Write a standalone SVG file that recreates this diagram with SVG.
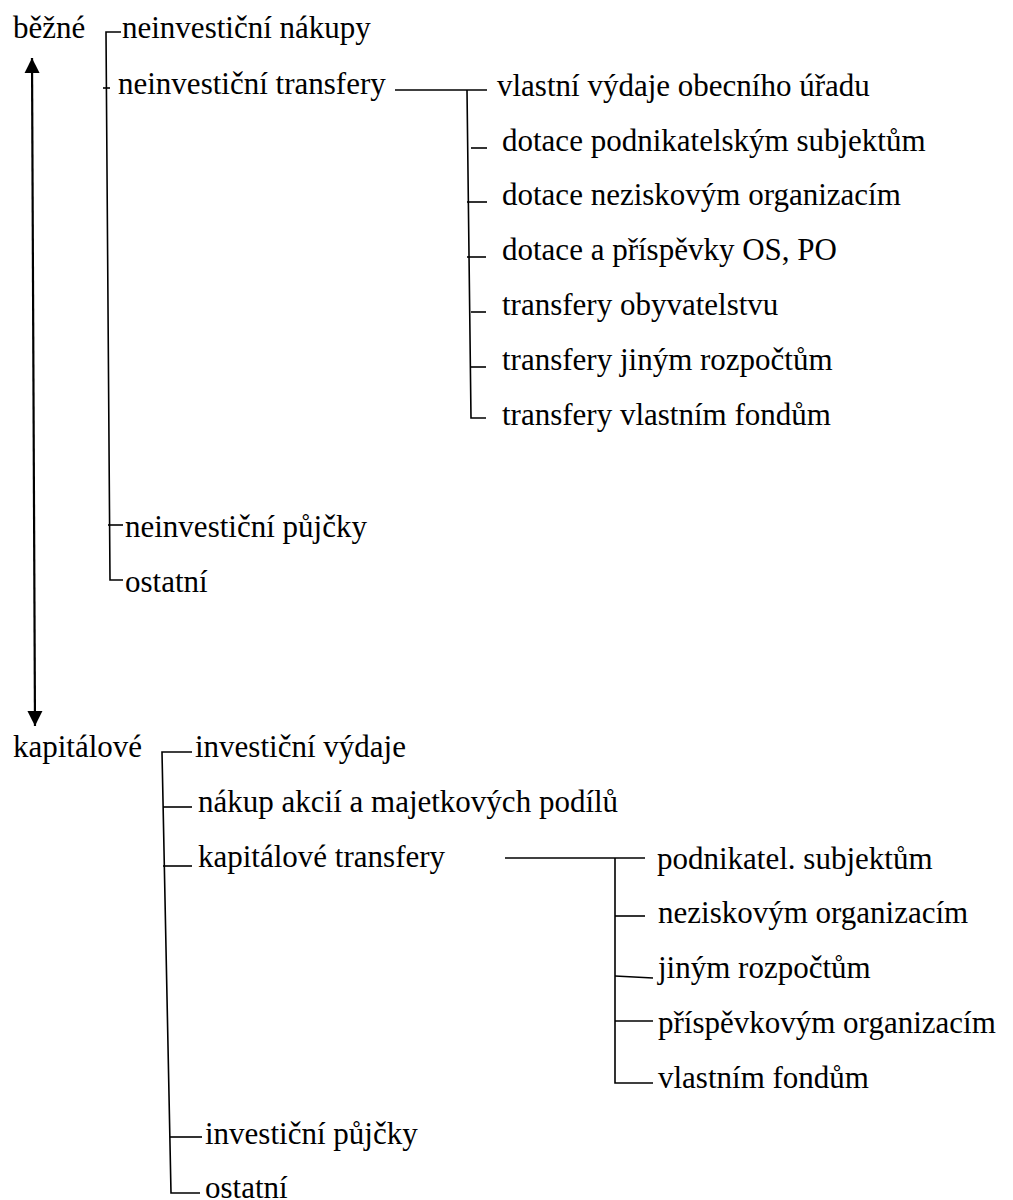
<svg xmlns="http://www.w3.org/2000/svg" width="1013" height="1200" viewBox="0 0 1013 1200">
<defs>
<style>
text{font-family:"Liberation Serif","Times New Roman",serif;font-size:31px;fill:#000}
.ln{stroke:#000;stroke-width:1.6;fill:none}
.ar{stroke:#000;stroke-width:2.2;fill:none}
</style>
<marker id="ah" viewBox="0 0 10 10" refX="10" refY="5" markerWidth="7" markerHeight="7" orient="auto-start-reverse" markerUnits="strokeWidth">
<path d="M0,0 L10,5 L0,10 z" fill="#000"/>
</marker>
</defs>
<rect width="1013" height="1200" fill="#fff"/>
<g id="connectors">
<line class="ar" x1="32" y1="58" x2="35" y2="726" marker-start="url(#ah)" marker-end="url(#ah)"/>
<path class="ln" d="M121,32 H106 L110,580 H123"/>
<path class="ln" d="M103,88 H110"/>
<path class="ln" d="M108,525 H123"/>
<path class="ln" d="M395,90 H487"/>
<path class="ln" d="M467,90 L471,418 H486"/>
<path class="ln" d="M471,148 H487"/>
<path class="ln" d="M467,202 H487"/>
<path class="ln" d="M467,257 H486"/>
<path class="ln" d="M471,312 H486"/>
<path class="ln" d="M471,367 H486"/>
<path class="ln" d="M192,752 H162 L171,1193 H200"/>
<path class="ln" d="M163,807 H192"/>
<path class="ln" d="M163,866 H192"/>
<path class="ln" d="M170,1137 H202"/>
<path class="ln" d="M505,858 H645"/>
<path class="ln" d="M615,858 V1083 H653"/>
<path class="ln" d="M615,916 H645"/>
<path class="ln" d="M615,976 L653,978"/>
<path class="ln" d="M615,1021 H653"/>
</g>
<g id="n-bezne"><text x="13" y="38">běžné</text></g>
<g id="n-neinv-nakupy"><text x="122" y="38">neinvestiční nákupy</text></g>
<g id="n-neinv-transfery"><text x="118" y="94">neinvestiční transfery</text></g>
<g id="n-vlastni-vydaje"><text x="497" y="96">vlastní výdaje obecního úřadu</text></g>
<g id="n-dotace-podn"><text x="502" y="151">dotace podnikatelským subjektům</text></g>
<g id="n-dotace-nezisk"><text x="502" y="205">dotace neziskovým organizacím</text></g>
<g id="n-dotace-os"><text x="502" y="260">dotace a příspěvky OS, PO</text></g>
<g id="n-transfery-obyv"><text x="502" y="315">transfery obyvatelstvu</text></g>
<g id="n-transfery-jinym"><text x="502" y="370">transfery jiným rozpočtům</text></g>
<g id="n-transfery-vlastnim"><text x="502" y="425">transfery vlastním fondům</text></g>
<g id="n-neinv-pujcky"><text x="125" y="537">neinvestiční půjčky</text></g>
<g id="n-ostatni-1"><text x="125" y="592">ostatní</text></g>
<g id="n-kapitalove"><text x="13" y="757">kapitálové</text></g>
<g id="n-invest-vydaje"><text x="195" y="757">investiční výdaje</text></g>
<g id="n-nakup-akcii"><text x="198" y="812">nákup akcií a majetkových podílů</text></g>
<g id="n-kap-transfery"><text x="198" y="867">kapitálové transfery</text></g>
<g id="n-podnikatel"><text x="657" y="869">podnikatel. subjektům</text></g>
<g id="n-neziskovym"><text x="658" y="923">neziskovým organizacím</text></g>
<g id="n-jinym"><text x="658" y="978">jiným rozpočtům</text></g>
<g id="n-prispevkovym"><text x="658" y="1033">příspěvkovým organizacím</text></g>
<g id="n-vlastnim-fondum"><text x="658" y="1088">vlastním fondům</text></g>
<g id="n-invest-pujcky"><text x="205" y="1144">investiční půjčky</text></g>
<g id="n-ostatni-2"><text x="205" y="1198">ostatní</text></g>
</svg>
